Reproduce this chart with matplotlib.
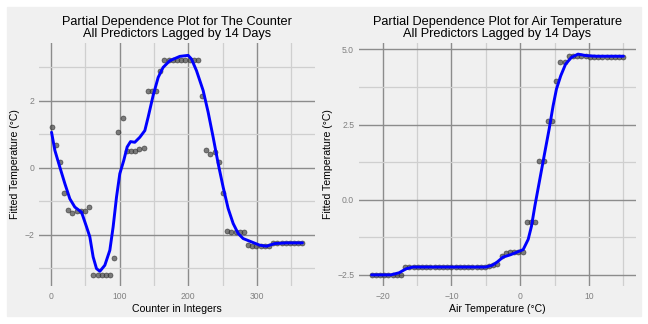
import matplotlib
matplotlib.use("Agg")
import matplotlib.pyplot as plt
from matplotlib.patches import Rectangle

plt.rcParams['font.family'] = ['Liberation Sans', 'DejaVu Sans']

# ---- left panel: day counter ----
counter_x = [1, 7.1, 13.2, 19.3, 25.3, 31.4, 37.5, 43.6, 49.7, 55.8,
             61.8, 67.9, 74, 80.1, 86.2, 92.3, 98.3, 104.4, 110.5, 116.6,
             122.7, 128.8, 134.8, 140.9, 147, 153.1, 159.2, 165.3, 171.3, 177.4,
             183.5, 189.6, 195.7, 201.8, 207.8, 213.9, 220, 226.1, 232.2, 238.3,
             244.3, 250.4, 256.5, 262.6, 268.7, 274.8, 280.8, 286.9, 293, 299.1,
             305.2, 311.3, 317.3, 323.4, 329.5, 335.6, 341.7, 347.8, 353.8, 359.9, 366]
counter_y = [1.21, 0.69, 0.17, -0.75, -1.27, -1.37, -1.30, -1.30, -1.30, -1.17,
             -3.21, -3.21, -3.21, -3.21, -3.21, -2.70, 1.08, 1.50, 0.49, 0.49,
             0.49, 0.57, 0.60, 2.28, 2.28, 2.28, 2.90, 3.23, 3.23, 3.23,
             3.23, 3.23, 3.23, 3.23, 3.23, 3.23, 2.14, 0.52, 0.42, 0.47,
             0.17, -0.76, -1.89, -1.92, -1.92, -1.92, -1.92, -2.30, -2.33, -2.33,
             -2.33, -2.33, -2.33, -2.25, -2.25, -2.25, -2.25, -2.25, -2.25, -2.25, -2.25]

# smoothed fit (blue line)
counter_fit_x = [1, 5.8, 13, 20.4, 27.6, 34.9, 44.6, 51.9, 56.7, 61.5, 66.4, 71.3,
                 78.5, 85.8, 90.6, 95.5, 100.3, 106.1, 111, 115.9, 122.1, 129.4,
                 136.7, 141.5, 148.8, 156.1, 163.3, 173, 187.6, 199.7, 204.6, 211.9,
                 221.5, 228.8, 236.1, 243.4, 250.6, 257.9, 265.2, 272.5, 279.7,
                 291.8, 303.9, 313.6, 325.7, 342.7, 366]
counter_fit_y = [1.06, 0.52, 0.02, -0.48, -0.93, -1.18, -1.33, -1.77, -2.07, -2.67, -3.02, -3.10,
                 -2.92, -2.47, -1.77, -0.88, -0.18, 0.22, 0.62, 0.78, 0.76, 0.91,
                 1.11, 1.51, 2.16, 2.70, 3.00, 3.20, 3.33, 3.36, 3.25, 2.90,
                 2.31, 1.66, 0.91, 0.12, -0.58, -1.22, -1.67, -1.97, -2.12,
                 -2.22, -2.32, -2.35, -2.27, -2.25, -2.25]

# ---- right panel: air temperature ----
air_x = [-21.6, -20.99, -20.38, -19.77, -19.16, -18.55, -17.94, -17.33, -16.72, -16.11,
         -15.5, -14.89, -14.28, -13.67, -13.06, -12.45, -11.84, -11.23, -10.62, -10.01,
         -9.4, -8.79, -8.18, -7.57, -6.96, -6.35, -5.74, -5.13, -4.52, -3.91,
         -3.3, -2.69, -2.08, -1.47, -0.86, -0.25, 0.36, 0.97, 1.58, 2.19,
         2.8, 3.41, 4.02, 4.63, 5.24, 5.85, 6.46, 7.07, 7.68, 8.29,
         8.9, 9.51, 10.12, 10.73, 11.34, 11.95, 12.56, 13.17, 13.78, 14.39, 15.0]
air_y = [-2.50, -2.50, -2.50, -2.50, -2.50, -2.50, -2.50, -2.50, -2.24, -2.24,
         -2.24, -2.24, -2.24, -2.24, -2.24, -2.24, -2.24, -2.24, -2.24, -2.24,
         -2.24, -2.24, -2.24, -2.24, -2.24, -2.24, -2.24, -2.24, -2.22, -2.16,
         -2.14, -1.86, -1.77, -1.75, -1.74, -1.74, -1.74, -0.73, -0.73, -0.74,
         1.27, 1.27, 2.60, 2.60, 3.96, 4.57, 4.57, 4.77, 4.79, 4.79,
         4.78, 4.77, 4.75, 4.75, 4.75, 4.75, 4.75, 4.75, 4.75, 4.75, 4.75]

air_fit_x = [-21.6, -18.8, -17.6, -16.6, -15.65, -5.0, -4.06, -3.33, -2.5, -1.4, -0.43,
             0.43, 1.16, 1.64, 2.13, 2.85, 3.57, 4.2, 4.78, 5.27, 5.89, 6.6,
             7.44, 8.4, 9.6, 11.06, 15.0]
air_fit_y = [-2.50, -2.50, -2.43, -2.30, -2.24, -2.24, -2.18, -2.07, -1.91, -1.83, -1.74,
             -1.66, -1.32, -0.88, -0.21, 0.68, 1.57, 2.34, 3.12, 3.68, 4.12, 4.51,
             4.73, 4.84, 4.79, 4.77, 4.77]

# ticks
left_xticks = [0, 100, 200, 300]
left_xlabels = ['0', '100', '200', '300']
left_yticks = [-2, 0, 2]
left_ylabels = ['\u22122', '0', '2']
right_xticks = [-20, -10, 0, 10]
right_xlabels = ['\u221220', '\u221210', '0', '10']
right_yticks = [-2.5, 0.0, 2.5, 5.0]
right_ylabels = ['\u22122.5', '0.0', '2.5', '5.0']

bg = '#F0F0F0'
fig = plt.figure(figsize=(6.48, 3.24), dpi=100, facecolor='white')
fig.patches.append(Rectangle((7 / 648, 8 / 324), 634 / 648, 309 / 324,
                             transform=fig.transFigure, color=bg, zorder=-10))

ax1 = fig.add_axes([39 / 648, 1 - 286 / 324, 276 / 648, 243 / 324])
ax2 = fig.add_axes([359 / 648, 1 - 286 / 324, 277 / 648, 243 / 324])


def style(ax, xt, xl, yt, yl, xminor, yminor, xlim, ylim):
    ax.set_facecolor(bg)
    for s in ax.spines.values():
        s.set_visible(False)
    ax.set_xticks(xt)
    ax.set_xticklabels(xl)
    ax.set_yticks(yt)
    ax.set_yticklabels(yl)
    ax.set_xticks(xminor, minor=True)
    ax.set_yticks(yminor, minor=True)
    ax.tick_params(which='both', length=0, labelsize=6.2, labelcolor='#808080')
    ax.tick_params(axis='x', pad=4.5)
    ax.tick_params(axis='y', pad=3.5)
    ax.grid(which='major', color='#8c8c8c', lw=1.0)
    ax.grid(which='minor', color='#cfcfcf', lw=0.9)
    ax.set_axisbelow(True)
    ax.set_xlim(*xlim)
    ax.set_ylim(*ylim)


style(ax1, left_xticks, left_xlabels, left_yticks, left_ylabels,
      [50, 150, 250, 350], [-3, -1, 1, 3], (-17.25, 384.25), (-3.54, 3.73))
style(ax2, right_xticks, right_xlabels, right_yticks, right_ylabels,
      [-15, -5, 5, 15], [-1.25, 1.25, 3.75], (-23.43, 16.83), (-2.87, 5.21))

for ax, px, py, fx, fy in [(ax1, counter_x, counter_y, counter_fit_x, counter_fit_y),
                           (ax2, air_x, air_y, air_fit_x, air_fit_y)]:
    ax.plot(px, py, 'o', ms=3.6, mfc='#4a4a4a', mec='#2a2a2a', mew=0.5, alpha=0.7, zorder=3)
    ax.plot(fx, fy, color='#0000FF', lw=2.1, solid_capstyle='round',
            solid_joinstyle='round', zorder=4)

ax1.set_title('Partial Dependence Plot for The Counter\nAll Predictors Lagged by 14 Days',
              fontsize=9.2, pad=4, linespacing=1.05)
ax2.set_title('Partial Dependence Plot for Air Temperature\nAll Predictors Lagged by 14 Days',
              fontsize=9.2, pad=4, linespacing=1.05)
ax1.set_xlabel('Counter in Integers', fontsize=7.6, labelpad=2)
ax2.set_xlabel('Air Temperature (\u00b0C)', fontsize=7.6, labelpad=2)
ax1.set_ylabel('Fitted Temperature (\u00b0C)', fontsize=7.6, labelpad=3)
ax2.set_ylabel('Fitted Temperature (\u00b0C)', fontsize=7.6, labelpad=3)

fig.savefig('out.png', dpi=100, facecolor='white')
